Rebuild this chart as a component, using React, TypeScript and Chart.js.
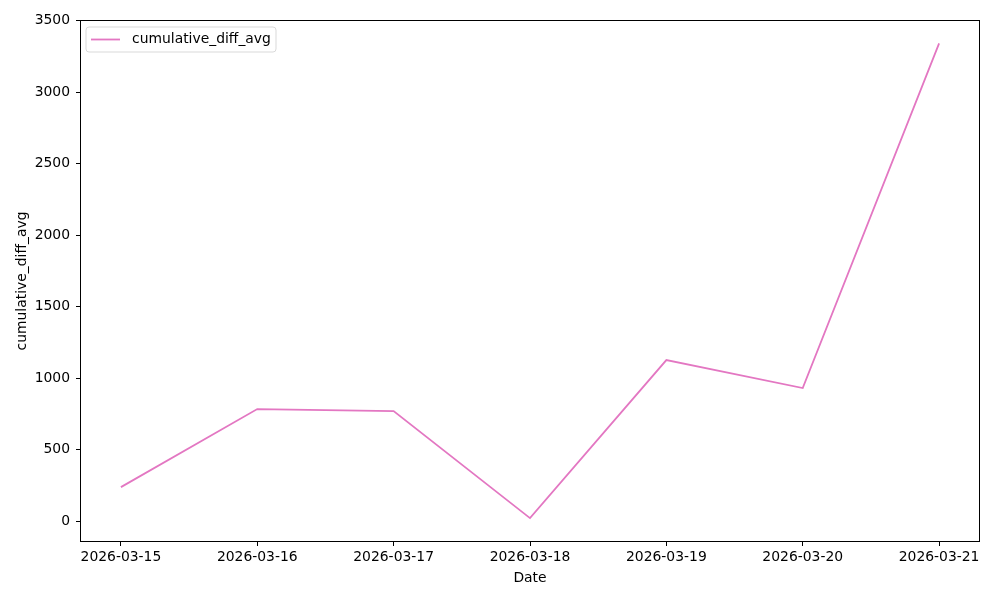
import React, { useEffect, useRef } from "react";
import { Chart, registerables } from "chart.js";

Chart.register(...registerables);

const dates = ["2026-03-15", "2026-03-16", "2026-03-17", "2026-03-18", "2026-03-19", "2026-03-20", "2026-03-21"];
const cumulativeDiffAvg = [238, 784, 770, 21, 1127, 931, 3343];
const yTicks = [0, 500, 1000, 1500, 2000, 2500, 3000, 3500];
const seriesLabel = "cumulative_diff_avg";
const lineColor = "#e377c2";
const FONT = "'DejaVu Sans', sans-serif";
const FS = 13.9;

const frameAndLegend = {
  id: "frameAndLegend",
  afterDraw(chart: any) {
    const { ctx, chartArea } = chart;
    ctx.save();
    ctx.strokeStyle = "#000";
    ctx.lineWidth = 1;
    ctx.strokeRect(
      Math.round(chartArea.left) + 0.5,
      Math.round(chartArea.top) + 0.5,
      Math.round(chartArea.right - chartArea.left) - 1,
      Math.round(chartArea.bottom - chartArea.top) - 1
    );
    // legend
    const x = chartArea.left + 6;
    const y = chartArea.top + 7;
    const w = 190;
    const h = 25;
    ctx.beginPath();
    const r = 3;
    ctx.moveTo(x + r, y);
    ctx.lineTo(x + w - r, y);
    ctx.quadraticCurveTo(x + w, y, x + w, y + r);
    ctx.lineTo(x + w, y + h - r);
    ctx.quadraticCurveTo(x + w, y + h, x + w - r, y + h);
    ctx.lineTo(x + r, y + h);
    ctx.quadraticCurveTo(x, y + h, x, y + h - r);
    ctx.lineTo(x, y + r);
    ctx.quadraticCurveTo(x, y, x + r, y);
    ctx.closePath();
    ctx.fillStyle = "rgba(255,255,255,0.8)";
    ctx.fill();
    ctx.strokeStyle = "#d9d9d9";
    ctx.lineWidth = 1;
    ctx.stroke();
    ctx.beginPath();
    ctx.strokeStyle = lineColor;
    ctx.lineWidth = 1.8;
    ctx.moveTo(x + 5, y + h / 2);
    ctx.lineTo(x + 34, y + h / 2);
    ctx.stroke();
    ctx.fillStyle = "#000";
    ctx.font = `${FS}px ${FONT}`;
    ctx.textBaseline = "middle";
    ctx.textAlign = "left";
    ctx.fillText(seriesLabel, x + 46, y + h / 2);
    ctx.restore();
  },
};

export default function App() {
  const ref = useRef<HTMLCanvasElement>(null);
  useEffect(() => {
    if (!ref.current) return;
    const chart = new Chart(ref.current, {
      type: "line",
      data: {
        datasets: [
          {
            label: seriesLabel,
            data: cumulativeDiffAvg.map((v, i) => ({ x: i, y: v })),
            borderColor: lineColor,
            backgroundColor: lineColor,
            borderWidth: 1.8,
            pointRadius: 0,
            tension: 0,
          },
        ],
      },
      options: {
        animation: false,
        responsive: false,
        devicePixelRatio: 1,
        layout: { padding: { top: 20, right: 20, left: 0, bottom: 0 } },
        plugins: { legend: { display: false }, tooltip: { enabled: false } },
        scales: {
          x: {
            type: "linear",
            min: -0.3,
            max: 6.3,
            afterBuildTicks: (axis: any) => {
              axis.ticks = dates.map((_, i) => ({ value: i }));
            },
            afterFit: (axis: any) => {
              axis.height = 58;
            },
            border: { display: false },
            grid: { drawOnChartArea: false, drawTicks: true, tickLength: 4, color: "#000" },
            ticks: {
              color: "#000",
              font: { family: FONT, size: FS },
              padding: 3,
              maxRotation: 0,
              autoSkip: false,
              callback: (v: any) => dates[Math.round(Number(v))] ?? "",
            },
            title: {
              display: true,
              text: "Date",
              color: "#000",
              font: { family: FONT, size: FS },
              padding: { top: 0, bottom: 13 },
            },
          },
          y: {
            type: "linear",
            min: -146,
            max: 3506,
            afterBuildTicks: (axis: any) => {
              axis.ticks = yTicks.map((v) => ({ value: v }));
            },
            afterFit: (axis: any) => {
              axis.width = 80;
            },
            border: { display: false },
            grid: { drawOnChartArea: false, drawTicks: true, tickLength: 4, color: "#000" },
            ticks: {
              color: "#000",
              font: { family: FONT, size: FS },
              padding: 6,
              autoSkip: false,
              callback: (v: any) => String(v),
            },
            title: {
              display: true,
              text: seriesLabel,
              color: "#000",
              font: { family: FONT, size: FS },
              padding: { top: 14, bottom: 0 },
            },
          },
        },
      },
      plugins: [frameAndLegend],
    });
    return () => chart.destroy();
  }, []);
  return (
    <div style={{ position: "absolute", left: 0, top: 0, width: 1000, height: 600, background: "#fff" }}>
      <canvas ref={ref} width={1000} height={600} style={{ width: 1000, height: 600 }} />
    </div>
  );
}
